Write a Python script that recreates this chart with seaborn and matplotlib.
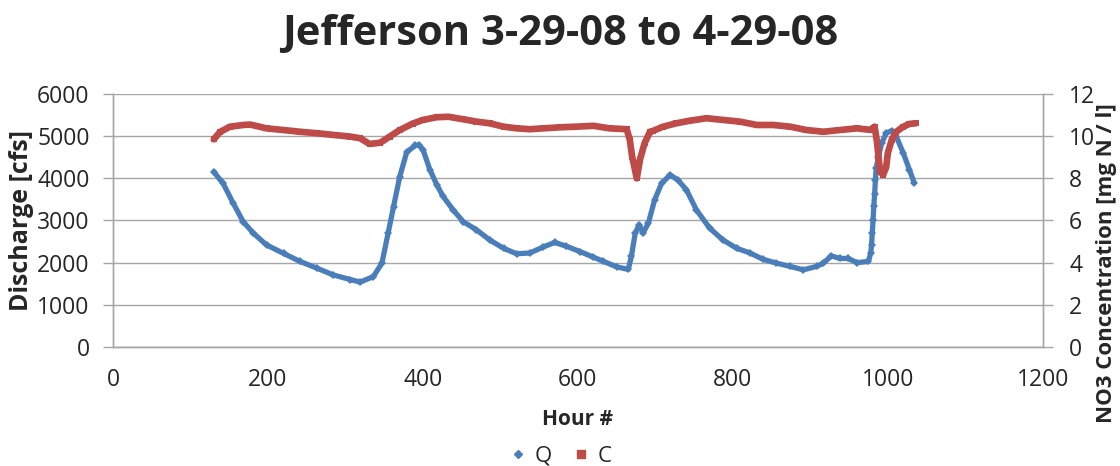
import numpy as np
import pandas as pd
import matplotlib
matplotlib.use("Agg")
import matplotlib.pyplot as plt
from matplotlib.lines import Line2D
import seaborn as sns

# Values
q_hours = [130, 142, 155, 168, 181, 198, 220, 241, 263, 284, 306, 319, 336, 347,
           355, 362, 370, 379, 390, 395, 400, 409, 418, 426, 439, 452, 469, 486,
           504, 521, 538, 555, 570, 585, 603, 620, 633, 650, 665, 669, 674, 679,
           684, 691, 699, 708, 719, 729, 740, 753, 770, 787, 805, 822, 839, 856,
           874, 891, 908, 917, 927, 938, 949, 960, 975, 978, 979, 980, 981, 982,
           983, 984, 985, 988, 992, 998, 1005, 1011, 1020, 1028, 1034]
q_cfs = [4150, 3880, 3410, 2970, 2700, 2420, 2220, 2030, 1870, 1710, 1600, 1540,
         1670, 1990, 2700, 3330, 4040, 4620, 4780, 4790, 4680, 4200, 3840, 3570,
         3250, 2970, 2780, 2540, 2340, 2210, 2230, 2370, 2480, 2390, 2260, 2130,
         2030, 1900, 1840, 2150, 2700, 2900, 2700, 2940, 3490, 3880, 4080, 3960,
         3730, 3250, 2820, 2540, 2340, 2230, 2080, 1990, 1910, 1830, 1910, 1990,
         2160, 2100, 2100, 2000, 2030, 2230, 2420, 2700, 3010, 3350, 3620, 3960,
         4240, 4510, 4830, 5070, 5130, 4990, 4600, 4200, 3900]

c_hours = [130, 138, 151, 168, 177, 198, 220, 241, 263, 284, 306, 319, 331, 345,
           357, 370, 387, 400, 418, 433, 452, 469, 486, 504, 521, 538, 555, 577,
           598, 620, 641, 663, 667, 670, 676, 680, 686, 693, 697, 710, 727, 744,
           766, 787, 809, 831, 852, 874, 895, 917, 938, 960, 977, 983, 986, 988,
           990, 994, 998, 1000, 1005, 1011, 1020, 1028, 1036]
c_no3 = [9.85, 10.2, 10.45, 10.53, 10.55, 10.37, 10.29, 10.21, 10.14, 10.06, 9.98,
         9.9, 9.63, 9.69, 9.98, 10.29, 10.6, 10.77, 10.9, 10.92, 10.8, 10.69, 10.61,
         10.45, 10.37, 10.33, 10.37, 10.42, 10.45, 10.49, 10.37, 10.33, 9.82, 9.03,
         8.0, 8.87, 9.66, 10.21, 10.25, 10.45, 10.61, 10.73, 10.85, 10.77, 10.69,
         10.53, 10.53, 10.45, 10.29, 10.21, 10.29, 10.37, 10.3, 10.45, 9.74, 9.03,
         8.32, 8.16, 8.55, 9.19, 9.82, 10.21, 10.45, 10.58, 10.61]

x_ticks = [0, 200, 400, 600, 800, 1000, 1200]
q_ticks = [0, 1000, 2000, 3000, 4000, 5000, 6000]
c_ticks = [0, 2, 4, 6, 8, 10, 12]

BLUE = "#4a7ebb"
RED = "#be4b48"
GRID = "#a6a6a6"
FONT = ["Open Sans", "DejaVu Sans"]

qdf = pd.DataFrame({"hour": q_hours, "Q": q_cfs})
cdf = pd.DataFrame({"hour": c_hours, "C": c_no3})

sns.set_theme(style="white")
plt.rcParams["font.family"] = FONT

fig = plt.figure(figsize=(11.2, 4.66), dpi=100)
ax = fig.add_axes([0.101, 0.2554, 0.830, 0.5429])
ax2 = ax.twinx()

sns.lineplot(data=qdf, x="hour", y="Q", ax=ax, color=BLUE, lw=3.8,
             marker="D", markersize=4.5, markeredgewidth=0, legend=False)
sns.lineplot(data=cdf, x="hour", y="C", ax=ax2, color=RED, lw=4.8,
             marker="s", markersize=5, markeredgewidth=0, legend=False)

ax.set_xlim(0, 1200)
ax.set_ylim(0, 6000)
ax2.set_ylim(0, 12)
ax.set_xticks(x_ticks)
ax.set_yticks(q_ticks)
ax2.set_yticks(c_ticks)

ax.yaxis.grid(True, color=GRID, lw=1)
ax.xaxis.grid(False)
ax2.grid(False)

for a in (ax, ax2):
    for s in a.spines.values():
        s.set_visible(False)
    for s in ("left", "bottom", "right"):
        a.spines[s].set_visible(True)
        a.spines[s].set_color(GRID)
        a.spines[s].set_linewidth(1)
    a.tick_params(colors="#262626", labelsize=16.5, length=7, width=1,
                  color=GRID, direction="out")
ax.tick_params(axis="x", pad=8)
ax.tick_params(axis="y", pad=10)
ax2.tick_params(axis="y", pad=12)

ax.set_xlabel("Hour #", fontsize=15, fontweight="bold")
ax.xaxis.set_label_coords(0.5, -0.245)
ax.set_ylabel("Discharge [cfs]", fontsize=18, fontweight="bold")
ax.yaxis.set_label_coords(-0.085, 0.5)
ax2.set_ylabel("NO3 Concentration [mg N / l]", fontsize=16, fontweight="bold")
ax2.yaxis.set_label_coords(1.057, 0.33)

fig.text(0.5, 0.927, "Jefferson 3-29-08 to 4-29-08", fontsize=30,
         fontweight="bold", ha="center", va="center")

handles = [Line2D([], [], ls="none", marker="D", color=BLUE, markersize=4.5),
           Line2D([], [], ls="none", marker="s", color=RED, markersize=5.5)]
fig.legend(handles, ["Q", "C"], loc="lower center", ncol=2, frameon=False,
           bbox_to_anchor=(0.5, -0.045), fontsize=16, handlelength=0.8,
           handletextpad=0.35, columnspacing=0.9)

fig.savefig("out.png", dpi=100)
